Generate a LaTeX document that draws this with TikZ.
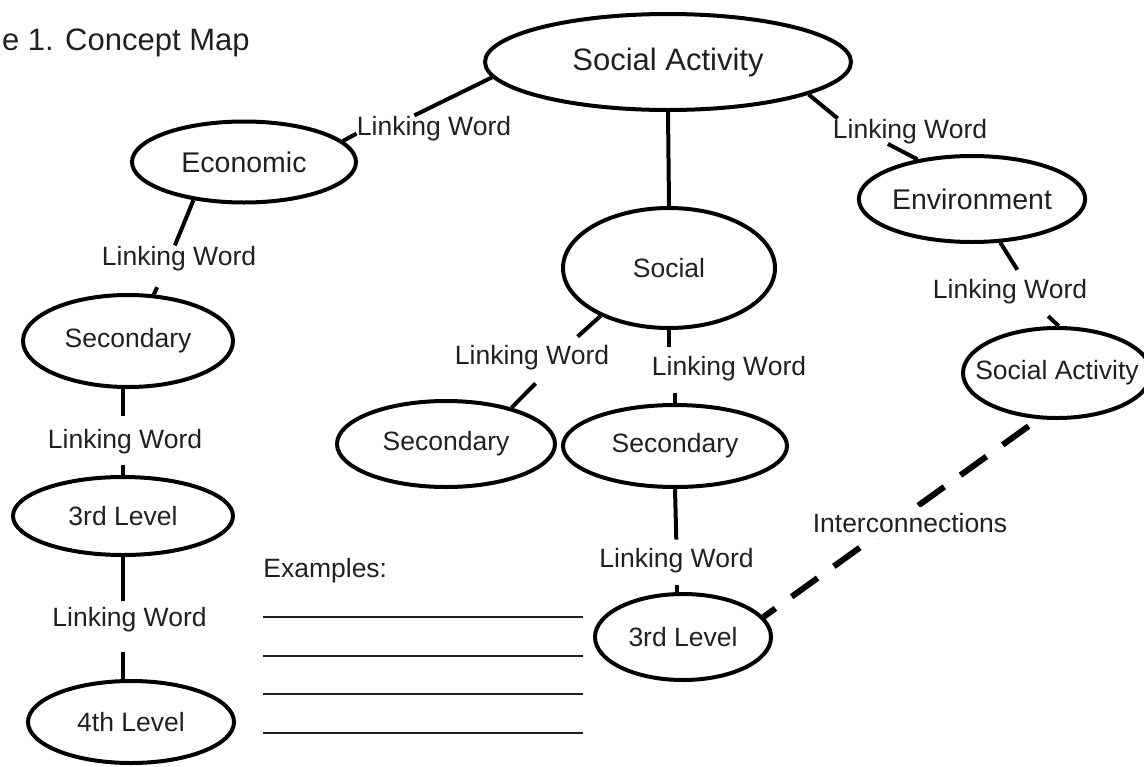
\documentclass[tikz,border=0pt]{standalone}
\usepackage{fontspec}
\setmainfont{Liberation Sans}
\usetikzlibrary{shapes.geometric}
\definecolor{inkgray}{HTML}{231F20}

\begin{document}
\begin{tikzpicture}[x=0.5pt,y=-0.5pt,
  concept/.style={ellipse,draw=black,line width=2pt,inner sep=0pt,text=inkgray,
    font=\fontsize{13.25}{16}\selectfont},
  link/.style={inner sep=0pt,text=inkgray,anchor=base,font=\fontsize{13.25}{16}\selectfont},
  tie/.style={line width=2pt},
  interlink/.style={line width=3pt,dash pattern=on 16pt off 10pt,dash phase=20pt}]
  \useasboundingbox (0,0) rectangle (1144,766);
  \node (title) at (-5,50) [anchor=base west,text=inkgray,font=\fontsize{15.5}{18}\selectfont] {e 1. Concept Map};
  % concepts
  \node (top) at (668,62) [concept,minimum width=183pt,minimum height=48pt,font=\fontsize{15.5}{18}\selectfont] {Social Activity};
  \node (eco) at (244,162) [concept,minimum width=112pt,minimum height=40.5pt,font=\fontsize{14.25}{17}\selectfont] {Economic};
  \node (env) at (972,199) [concept,minimum width=110pt,minimum height=43pt,font=\fontsize{14.25}{17}\selectfont] {Environment};
  \node (social) at (669,268) [concept,minimum width=106pt,minimum height=60pt] {Social};
  \node (sec1) at (128,341) [concept,minimum width=105pt,minimum height=46pt] {Secondary};
  \node (sec2) at (446,444) [concept,minimum width=109pt,minimum height=43pt] {Secondary};
  \node (sec3) at (675,446) [concept,minimum width=112pt,minimum height=41pt] {Secondary};
  \node (sa2) at (1057,373) [concept,minimum width=94pt,minimum height=45pt] {\makebox[0pt]{Social Activity}};
  \node (lvl3a) at (123,516) [concept,minimum width=110pt,minimum height=39pt] {3rd Level};
  \node (lvl4) at (131,722) [concept,minimum width=103pt,minimum height=41pt] {4th Level};
  \node (lvl3b) at (683,637) [concept,minimum width=88pt,minimum height=43pt] {3rd Level};
  % linking words
  \node (lw1) at (434,135) [link] {Linking Word};
  \node (lw2) at (910,138) [link] {Linking Word};
  \node (lw3) at (179,265) [link] {Linking Word};
  \node (lw9) at (1010,298) [link] {Linking Word};
  \node (lw6) at (532,364) [link] {Linking Word};
  \node (lw7) at (729,375) [link] {Linking Word};
  \node (lw4) at (125,448) [link] {Linking Word};
  \node (lw8) at (676.5,567) [link] {Linking Word};
  \node (lw5) at (129.5,626) [link] {Linking Word};
  % connectors
  \draw[tie] (top.185) -- (lw1.147);
  \draw[tie] (eco.12) -- (lw1.184);
  \draw[tie] (top.-13) -- (lw2.170);
  \draw[tie] (lw2.210) -- (env.144);
  \draw[tie] (eco.217) -- (lw3.108);
  \draw[tie,shorten <=9pt] (lw3.222) -- (sec1.61);
  \draw[tie,shorten >=6pt] (lvl3a.north |- sec1.south) -- (lvl3a.north |- lw4.north);
  \draw[tie,shorten <=5.7pt] (lvl3a.north |- lw4.south) -- (lvl3a.north);
  \draw[tie,shorten >=2.5pt] (lvl3a.south) -- (lvl3a.south |- lw5.north);
  \draw[tie,shorten <=10pt] (lvl3a.south |- lw5.south) -- (lvl3a.south |- lvl4.north);
  \draw[tie] (top.south) -- (social.north);
  \draw[tie,shorten >=5.8pt] (social.215) -- (lw6.19);
  \draw[tie,shorten <=9.5pt] (lw6.-37) -- (sec2.29);
  \draw[tie,shorten >=4.4pt] (social.south) -- (social.south |- lw7.north);
  \draw[tie,shorten <=6.2pt] (sec3.north |- lw7.south) -- (sec3.north);
  \draw[tie,shorten >=3.9pt] (sec3.south) -- (lw8.north);
  \draw[tie,shorten <=6.2pt] (lw8.south) -- (lw8.south |- lvl3b.north);
  \draw[tie,shorten >=5.1pt] (env.-57) -- (lw9.45);
  \draw[tie,shorten <=9pt] (lw9.-27) -- (sa2.88);
  \draw[interlink] (sa2.248) -- (lvl3b.14);
  \node (ic) at (910,532) [link,fill=white,inner sep=3pt] {Interconnections};
  % examples
  \node (ex) at (263,577) [link,anchor=base west] {Examples:};
  \foreach \y in {617,656,694,733}
    \draw[inkgray,line width=0.8pt] (263,\y) -- (583,\y);
\end{tikzpicture}
\end{document}
